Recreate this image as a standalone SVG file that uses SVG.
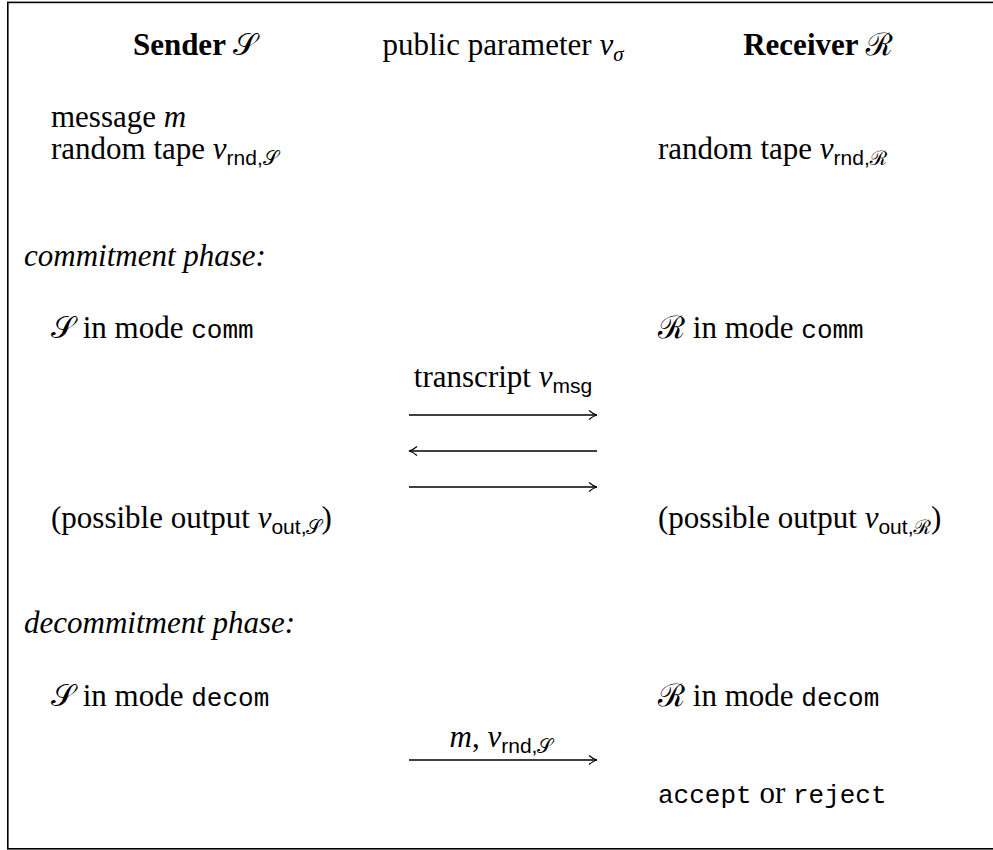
<svg xmlns="http://www.w3.org/2000/svg" width="993" height="850" viewBox="0 0 993 850">
  <style>
    text { font-family: "Liberation Serif", "DejaVu Serif", serif; font-size: 31px; fill: #000; }
    .b { font-weight: bold; }
    .it { font-style: italic; }
    .mid { text-anchor: middle; }
    .tt { font-family: "Liberation Mono", "DejaVu Sans Mono", monospace; font-size: 26px; }
    .sf { font-family: "Liberation Sans", "DejaVu Sans", sans-serif; font-size: 21px; font-style: normal; }
    .cal { font-family: "DejaVu Serif", "Noto Sans", serif; font-style: normal; }
    .calsub { font-family: "DejaVu Serif", "Noto Sans", serif; font-size: 20px; font-style: normal; }
    .msg { stroke: #000; stroke-width: 1.3; fill: none; }
  </style>
  <defs>
    <marker id="head" viewBox="0 0 12 12" refX="11" refY="6" markerWidth="12" markerHeight="12" markerUnits="userSpaceOnUse" orient="auto-start-reverse">
      <path d="M3,1.5 Q7,5 11,6 Q7,7 3,10.5" fill="none" stroke="#000" stroke-width="1.2"/>
    </marker>
  </defs>

  <!-- outer frame (right side runs past the canvas edge) -->
  <rect x="7.8" y="2.4" width="1000" height="846.4" fill="none" stroke="#000" stroke-width="1.6"/>

  <!-- header row -->
  <g id="sender-title"><text class="mid" x="195" y="55"><tspan class="b">Sender </tspan><tspan class="cal">𝒮</tspan></text></g>
  <g id="public-param"><text class="mid" x="503" y="55">public parameter <tspan class="it">v</tspan><tspan class="it" font-size="21" dy="6">σ</tspan></text></g>
  <g id="receiver-title"><text class="mid" x="818" y="55"><tspan class="b">Receiver </tspan><tspan class="cal">ℛ</tspan></text></g>

  <!-- inputs -->
  <g id="sender-inputs">
    <text x="51" y="127">message <tspan class="it">m</tspan></text>
    <text x="51" y="159">random tape <tspan class="it">v</tspan><tspan class="sf" dy="6">rnd,</tspan><tspan class="calsub">𝒮</tspan></text>
  </g>
  <g id="receiver-inputs">
    <text x="658" y="159">random tape <tspan class="it">v</tspan><tspan class="sf" dy="6">rnd,</tspan><tspan class="calsub">ℛ</tspan></text>
  </g>

  <!-- commitment phase -->
  <g id="commit-label"><text class="it" x="24" y="266">commitment phase:</text></g>
  <g id="sender-comm"><text x="51" y="338"><tspan class="cal">𝒮</tspan> in mode <tspan class="tt">comm</tspan></text></g>
  <g id="receiver-comm"><text x="658" y="338"><tspan class="cal">ℛ</tspan> in mode <tspan class="tt">comm</tspan></text></g>
  <g id="transcript"><text class="mid" x="503" y="387">transcript <tspan class="it">v</tspan><tspan class="sf" dy="6">msg</tspan></text></g>
  <g id="sender-out"><text x="51" y="528">(possible output <tspan class="it">v</tspan><tspan class="sf" dy="6">out,</tspan><tspan class="calsub">𝒮</tspan><tspan dy="-6">)</tspan></text></g>
  <g id="receiver-out"><text x="658" y="528">(possible output <tspan class="it">v</tspan><tspan class="sf" dy="6">out,</tspan><tspan class="calsub">ℛ</tspan><tspan dy="-6">)</tspan></text></g>

  <!-- decommitment phase -->
  <g id="decommit-label"><text class="it" x="24" y="633">decommitment phase:</text></g>
  <g id="sender-decom"><text x="51" y="706"><tspan class="cal">𝒮</tspan> in mode <tspan class="tt">decom</tspan></text></g>
  <g id="receiver-decom"><text x="658" y="706"><tspan class="cal">ℛ</tspan> in mode <tspan class="tt">decom</tspan></text></g>
  <g id="opening"><text class="mid" x="501" y="747"><tspan class="it">m</tspan>, <tspan class="it">v</tspan><tspan class="sf" dy="6">rnd,</tspan><tspan class="calsub">𝒮</tspan></text></g>
  <g id="verdict"><text x="658" y="803"><tspan class="tt">accept</tspan> or <tspan class="tt">reject</tspan></text></g>

  <!-- message arrows -->
  <g id="connectors">
    <line class="msg" x1="409" y1="415" x2="597" y2="415" marker-end="url(#head)"/>
    <line class="msg" x1="597" y1="451" x2="409" y2="451" marker-end="url(#head)"/>
    <line class="msg" x1="409" y1="487" x2="597" y2="487" marker-end="url(#head)"/>
    <line class="msg" x1="409" y1="760" x2="597" y2="760" marker-end="url(#head)"/>
  </g>
</svg>
